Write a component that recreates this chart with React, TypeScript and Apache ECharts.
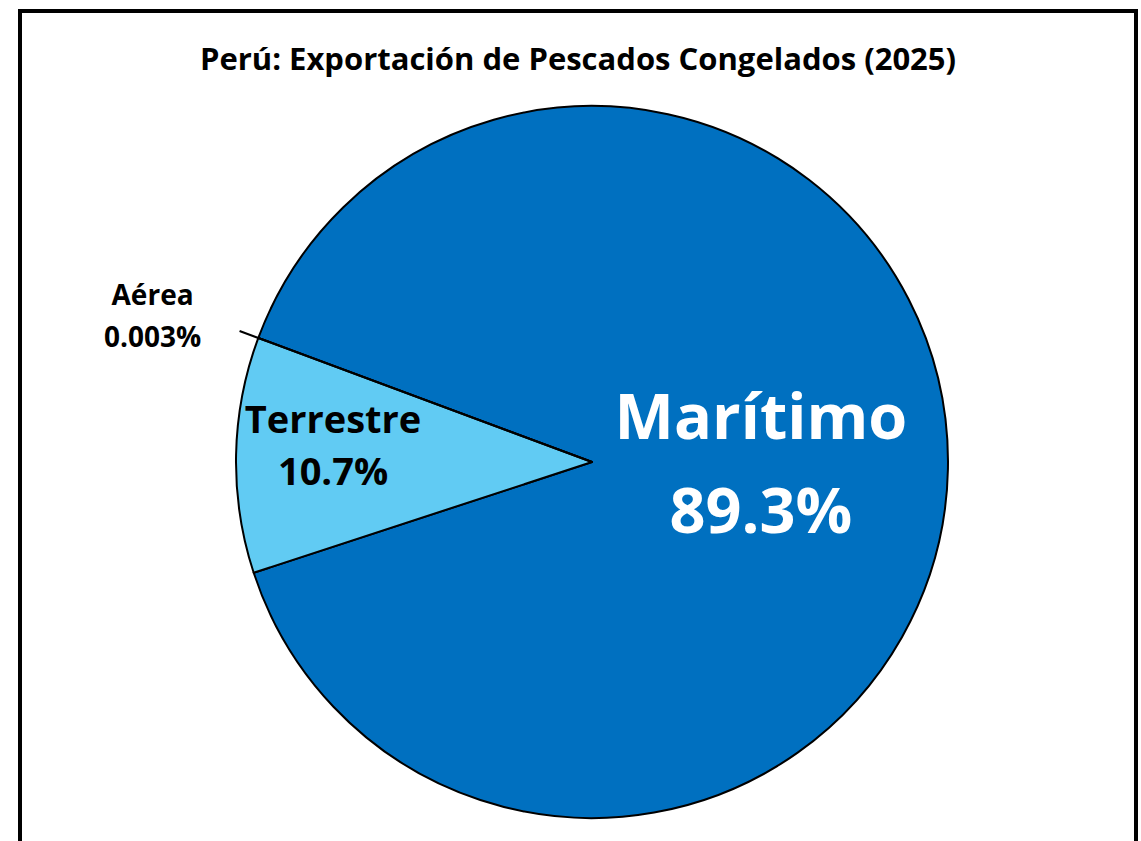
import React, { useEffect, useRef } from "react";
import * as echarts from "echarts";

const titleText = "Perú: Exportación de Pescados Congelados (2025)";
const categories = ["Marítimo", "Terrestre", "Aérea"];
const shares = [89.297, 10.7, 0.003];
const shareLabels = ["89.3%", "10.7%", "0.003%"];
const colors = ["#0070C0", "#61CBF3", "#1F3864"];

const FONT = "Open Sans";

export default function App() {
  const ref = useRef<HTMLDivElement>(null);
  useEffect(() => {
    if (!ref.current) return;
    const chart = echarts.init(ref.current, undefined, { renderer: "svg" });
    const labelStyles: any[] = [
      {
        position: "inside",
        formatter: (p: any) => `{m|${p.name}}\n{m|${shareLabels[p.dataIndex]}}`,
        rich: {
          m: {
            color: "#ffffff",
            fontSize: 63,
            lineHeight: 94,
            fontWeight: "bold",
            fontFamily: FONT,
          },
        },
      },
      {
        position: "inside",
        formatter: (p: any) => `{t|${p.name}}\n{t|${shareLabels[p.dataIndex]}}`,
        rich: {
          t: {
            color: "#000000",
            fontSize: 38,
            lineHeight: 52,
            fontWeight: "bold",
            fontFamily: FONT,
          },
        },
      },
      {
        position: "outside",
        distanceToLabelLine: 5,
        padding: [0, 32, 0, 0],
        formatter: (p: any) =>
          `{a|${p.name}}\n{a|${shareLabels[p.dataIndex]}}\n{s|}`,
        rich: {
          a: {
            color: "#000000",
            fontSize: 28,
            lineHeight: 42,
            width: 100,
            align: "center",
            fontWeight: "bold",
            fontFamily: FONT,
          },
          s: { height: 32, lineHeight: 32 },
        },
      },
    ];
    const labelShifts: any[] = [{ dx: -12, dy: -4 }, { dx: -78, dy: -14 }, null];
    const data = categories.map((name, i) => ({
      name,
      value: shares[i],
      itemStyle: { color: colors[i] },
      label: { show: true, ...labelStyles[i] },
      labelLine:
        i === 2
          ? { show: true, length: 20, length2: 0, lineStyle: { color: "#000", width: 2 } }
          : { show: false },
    }));
    chart.setOption({
      animation: false,
      backgroundColor: "#ffffff",
      title: {
        text: titleText,
        left: "center",
        top: 37,
        textStyle: {
          fontFamily: FONT,
          fontWeight: "bold",
          fontSize: 31,
          color: "#000000",
        },
      },
      graphic: [
        {
          type: "rect",
          shape: { x: 5, y: 11, width: 1116, height: 900 },
          style: { fill: "none", stroke: "#000000", lineWidth: 4 },
          silent: true,
        },
      ],
      series: [
        {
          type: "pie",
          center: [577, 462],
          radius: 356,
          startAngle: 159.6,
          clockwise: true,
          avoidLabelOverlap: false,
          itemStyle: { borderColor: "#000000", borderWidth: 2 },
          emphasis: { disabled: true },
          labelLayout: (p: any) => labelShifts[p.dataIndex] || {},
          data,
        },
      ],
    });
    return () => chart.dispose();
  }, []);
  return (
    <div
      ref={ref}
      style={{ position: "fixed", left: 15, top: 0, width: 1126, height: 841 }}
    />
  );
}
